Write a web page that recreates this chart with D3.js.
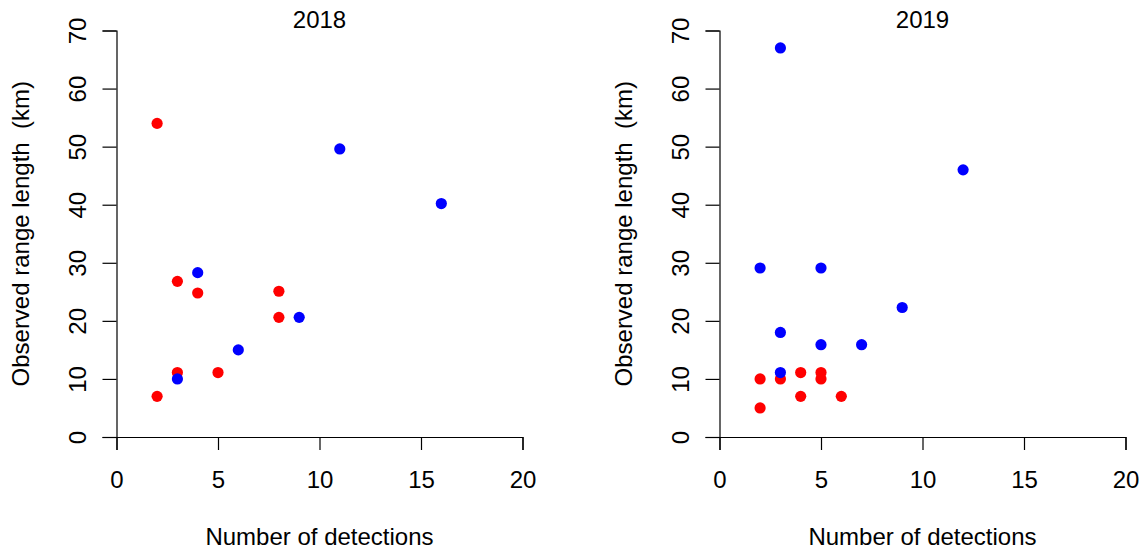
<!DOCTYPE html>
<html>
<head>
<meta charset="utf-8">
<script src="https://cdn.jsdelivr.net/npm/d3@7"></script>
<style>
  body { margin: 0; background: #fff; }
  svg text { font-family: "Liberation Sans", Arial, sans-serif; fill: #000; }
</style>
</head>
<body>
<div id="chart"></div>
<script>
var svgWidth = 1141;
var svgHeight = 550;

// values
var years = ["2018", "2019"];
var xTicks = [0, 5, 10, 15, 20];
var yTicks = [0, 10, 20, 30, 40, 50, 60, 70];

var det2018Red = [2, 3, 4, 8, 8, 3, 5, 2];
var len2018Red = [54, 26.8, 24.8, 25.1, 20.6, 11.1, 11.1, 7];
var det2018Blue = [11, 16, 4, 9, 6, 3];
var len2018Blue = [49.6, 40.2, 28.3, 20.6, 15, 10];

var det2019Red = [4, 5, 2, 3, 5, 4, 6, 2];
var len2019Red = [11.1, 11.1, 10, 10, 10, 7, 7, 5];
var det2019Blue = [3, 12, 2, 5, 9, 3, 5, 7, 3];
var len2019Blue = [67, 46, 29.1, 29.1, 22.3, 18, 15.9, 15.9, 11.1];

var panels = [
  { title: years[0], left: 116.5, red: [det2018Red, len2018Red], blue: [det2018Blue, len2018Blue] },
  { title: years[1], left: 719.5, red: [det2019Red, len2019Red], blue: [det2019Blue, len2019Blue] }
];

var plotW = 406;
var yTop = 30.5, yBottom = 437;

var svg = d3.select("#chart")
  .append("svg")
  .attr("width", svgWidth)
  .attr("height", svgHeight);

panels.forEach(function(p) {
  var x = d3.scaleLinear().domain([0, 20]).range([p.left, p.left + plotW]);
  var y = d3.scaleLinear().domain([0, 70]).range([yBottom, yTop]);

  // x axis
  var xAxis = svg.append("g")
    .attr("transform", `translate(0, ${yBottom})`)
    .call(d3.axisBottom(x).tickValues(xTicks).tickSizeOuter(0).tickSize(13).tickPadding(21));
  xAxis.selectAll("text").attr("font-size", 24);

  // y axis, labels turned like R does
  var yAxis = svg.append("g")
    .attr("transform", `translate(${p.left}, 0)`)
    .call(d3.axisLeft(y).tickValues(yTicks).tickSizeOuter(0).tickSize(14));
  yAxis.selectAll("text")
    .attr("font-size", 24)
    .attr("x", null).attr("dy", null)
    .attr("text-anchor", "middle")
    .attr("transform", "translate(-31, 0) rotate(-90)");

  svg.selectAll(".domain, .tick line").attr("stroke", "#000").attr("stroke-width", 1.2);

  svg.append("text")
    .attr("x", x(10)).attr("y", 28)
    .attr("text-anchor", "middle")
    .attr("font-size", 24)
    .text(p.title);

  svg.append("text")
    .attr("x", x(10)).attr("y", 545)
    .attr("text-anchor", "middle")
    .attr("font-size", 24)
    .text("Number of detections");

  svg.append("text")
    .attr("transform", `translate(${p.left - 88}, ${y(35)}) rotate(-90)`)
    .attr("text-anchor", "middle")
    .attr("font-size", 24)
    .style("white-space", "pre")
    .text("Observed range length  (km)");

  // red points first, blue on top
  [[p.red, "#ff0000"], [p.blue, "#0000ff"]].forEach(function(s) {
    var xs = s[0][0], ys = s[0][1];
    svg.append("g").selectAll("circle")
      .data(xs.map(function(d, i) { return { n: d, len: ys[i] }; }))
      .enter()
      .append("circle")
      .attr("cx", d => x(d.n))
      .attr("cy", d => y(d.len))
      .attr("r", 5.6)
      .attr("fill", s[1]);
  });
});
</script>
</body>
</html>
